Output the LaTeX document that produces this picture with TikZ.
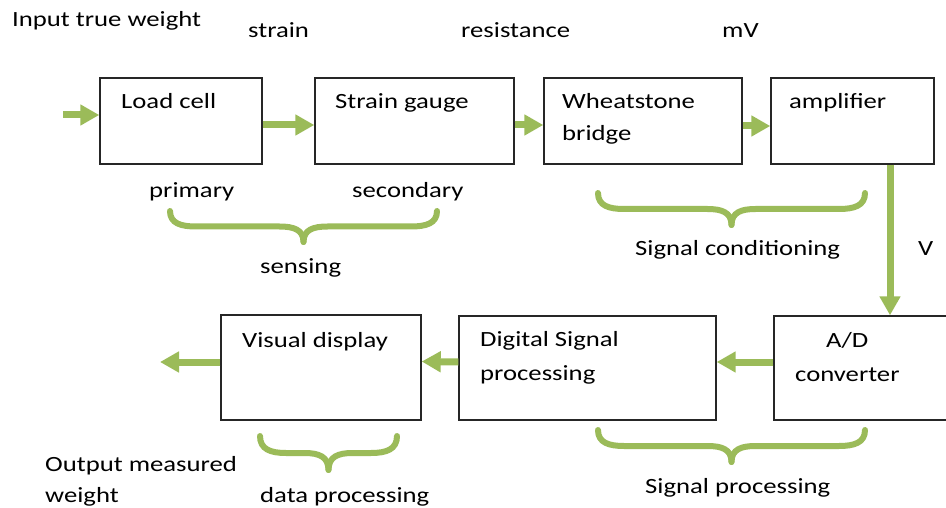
\documentclass[tikz,border=0pt]{standalone}
\usepackage{fontspec}
\setmainfont{Carlito}[FakeStretch=1.23]
\usetikzlibrary{arrows.meta}
\definecolor{leaf}{HTML}{9BBB59}
\tikzset{
  blk/.style 2 args={draw=black!85, line width=1.4pt, minimum width=#1, minimum height=#2, inner sep=0pt},
  lbl/.style={inner sep=0pt, anchor=base west, text=black, font=\fontsize{21.7}{32}\selectfont},
  flow/.style={draw=leaf, line width=7pt, -{Triangle[length=19pt,width=20pt,fill=leaf]}},
  curly/.style={draw=leaf, line width=6pt, line cap=round}
}
% brace from x #1 to x #2, top at #3, tip at #4
\newcommand{\downbrace}[4]{%
  \draw[curly] (#1,#3) .. controls (#1,{#3+0.4*(#4-#3)}) and ({#1+11},{(#3+#4)/2}) .. ({#1+26},{(#3+#4)/2})
    -- ({(#1+#2)/2-24},{(#3+#4)/2}) .. controls ({(#1+#2)/2-10},{(#3+#4)/2}) and ({(#1+#2)/2},{#4-0.4*(#4-#3)}) .. ({(#1+#2)/2},#4);
  \draw[curly] (#2,#3) .. controls (#2,{#3+0.4*(#4-#3)}) and ({#2-11},{(#3+#4)/2}) .. ({#2-26},{(#3+#4)/2})
    -- ({(#1+#2)/2+24},{(#3+#4)/2}) .. controls ({(#1+#2)/2+10},{(#3+#4)/2}) and ({(#1+#2)/2},{#4-0.4*(#4-#3)}) .. ({(#1+#2)/2},#4);
}
\begin{document}
\begin{tikzpicture}[x=1pt,y=-1pt]
    \useasboundingbox (0,0) rectangle (946,508);
    \clip (0,0) rectangle (946,508);
    % blocks
    \node[blk={162}{86}] (load) at (181,121) {};
    \node[blk={199}{86}] (sg) at (414.5,121) {};
    \node[blk={198}{86}] (wheat) at (643,121) {};
    \node[blk={163}{86}] (amp) at (852.5,121) {};
    \node[blk={176}{104}] (ad) at (862,368) {};
    \node[blk={257}{104}] (dsp) at (587.5,368) {};
    \node[blk={200}{105}] (vis) at (321,367.5) {};
    \coordinate (in) at (63,115);
    \coordinate (out) at (160,362);
    \coordinate (vline) at (890,0);
    % arrows
    \draw[flow] (in) -- ([yshift=6pt]load.west);
    \draw[flow] ([yshift=-4pt]load.east) -- ([yshift=-4pt]sg.west);
    \draw[flow] ([yshift=-4pt]sg.east) -- ([yshift=-4pt]wheat.west);
    \draw[flow] ([yshift=-5pt]wheat.east) -- ([yshift=-5pt]amp.west);
    \draw[flow] (amp.south -| vline) -- (ad.north -| vline);
    \draw[flow] ([yshift=6pt]ad.west) -- ([yshift=6pt]dsp.east);
    \draw[flow] ([yshift=6pt]dsp.west) -- ([yshift=6pt]vis.east);
    \draw[flow] ([yshift=5.5pt]vis.west) -- (out);
    % braces
    \downbrace{170}{437}{211}{242}
    \downbrace{598}{865}{193}{225}
    \downbrace{260}{397}{436}{470}
    \downbrace{598}{865}{430}{462}
    % texts
    \node[lbl] (tin) at (12,27) {Input true weight};
    \node[lbl] (tstrain) at (248,38) {strain};
    \node[lbl] (tres) at (461,38) {resistance};
    \node[lbl] (tmv) at (722,38) {mV};
    \node[lbl] (tload) at (121,109) {Load cell};
    \node[lbl] (tsg) at (335,109) {Strain gauge};
    \node[lbl] (twh) at (562,109) {Wheatstone};
    \node[lbl] (tbr) at (562,141) {bridge};
    \node[lbl] (tamp) at (789,109) {amplifier};
    \node[lbl] (tpri) at (149,197) {primary};
    \node[lbl] (tsec) at (352,197) {secondary};
    \node[lbl] (tsens) at (260,273) {sensing};
    \node[lbl] (tcond) at (635,255) {Signal conditioning};
    \node[lbl] (tv) at (918,255) {V};
    \node[lbl] (tvis) at (242,347) {Visual display};
    \node[lbl] (tdsp) at (480,346) {Digital Signal};
    \node[lbl] (tproc) at (480,380) {processing};
    \node[lbl] (tad) at (826,347) {A/D};
    \node[lbl] (tconv) at (795,381) {converter};
    \node[lbl] (tout) at (45,471) {Output measured};
    \node[lbl] (tw) at (45,502) {weight};
    \node[lbl] (tdata) at (260,502) {data processing};
    \node[lbl] (tsp) at (645,493) {Signal processing};
\end{tikzpicture}
\end{document}
